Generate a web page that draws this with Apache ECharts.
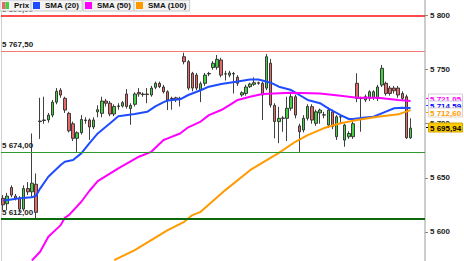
<!DOCTYPE html>
<html><head><meta charset="utf-8">
<script src="https://cdn.jsdelivr.net/npm/echarts@6/dist/echarts.min.js"></script>
<style>html,body{margin:0;padding:0;background:#fff}#c{width:464px;height:261px}</style>
</head><body><div id="c"></div>
<script>
// ---- DATA ----
const seriesNames = ['Prix', 'SMA (20)', 'SMA (50)', 'SMA (100)'];
// [open, close, low, high]
const candles = [
 [5631,5625,5620,5634],[5626,5633,5620,5636],[5641,5634,5632,5643],[5633,5631,5629,5635],[5631,5621,5618,5633],
 [5621,5640,5619,5643],[5640,5637,5634,5646],[5637,5645,5632,5691],[5644,5618,5612,5654],[5702,5702.5,5686,5724],
 [5703,5703.5,5700,5725],[5703.5,5708,5701,5710],[5708,5720,5706,5722],[5720,5730,5718,5733],[5731,5726.5,5724,5733],
 [5723.5,5712.7,5710,5725],[5709.6,5693.5,5692,5711],[5700,5686.5,5684,5702],[5686.5,5691.7,5674,5693],[5691.7,5704,5690,5708],
 [5703,5703.5,5700,5706],[5703.5,5697,5685,5705],[5697,5703.5,5695,5706],[5711,5713,5706,5717],[5709.6,5721,5706,5725],
 [5721,5719,5716,5723],[5719,5709,5707,5721],[5709,5716,5707,5718],[5716,5716.5,5713,5719],[5716.4,5719.5,5715,5721],
 [5727.5,5716,5714,5732],[5714,5717,5699,5719],[5718,5727.5,5716,5729],[5729,5727.5,5725,5733],[5727,5727.5,5725,5729],
 [5727.5,5727,5719,5733],[5726.6,5733,5725,5735],[5733.7,5737.4,5732,5739],[5737.4,5734.3,5733,5739],[5734,5729.6,5728,5736],
 [5729.6,5722,5712.7,5731],[5723.5,5723,5713,5725],[5724,5722.5,5720,5725],[5723.5,5723,5716,5725],[5762,5757.4,5755,5765.7],
 [5757.4,5733,5731,5759],[5746.7,5733,5730,5748],[5745,5733,5731,5747],[5731,5737,5720,5739],[5737.4,5745,5735,5747],
 [5746,5746.5,5744,5748],[5752,5756,5750,5758],[5752.2,5759.6,5750,5763.6],[5759,5745,5743,5761],[5746,5746.2,5740,5749],
 [5745,5747,5743,5749],[5746,5746.5,5728,5748],[5743,5737.4,5735,5745],[5726.6,5728.7,5725,5730],[5728,5734,5726,5736],
 [5734.3,5736.8,5733,5738],[5736.5,5738,5735,5743],[5738,5737.5,5736,5739],[5737.4,5726.6,5703.4,5739],[5733,5762,5731,5764.5],
 [5756,5717.3,5715,5760],[5717,5702,5686.5,5719],[5702,5705,5682,5715.7],[5705,5705.3,5692.6,5707],[5705,5714.3,5684,5725],
 [5714.3,5725,5712,5729.6],[5725,5708,5705,5727],[5698,5692.6,5674,5700],[5694.2,5705,5692,5708],[5705,5716,5703,5718],
 [5715.8,5703.4,5700,5718],[5700.4,5711,5698,5713],[5710,5712.7,5700,5714],[5708,5708.3,5705,5711],[5698.8,5712.6,5696,5715],
 [5711,5697.3,5695,5713],[5688,5706.5,5685,5708],[5706.5,5706.2,5700,5708],[5684.9,5698.8,5678.7,5700],[5688,5691,5686,5693],
 [5688,5700,5686,5702],[5737.4,5723.5,5720,5746.7],[5723.5,5723.3,5692.6,5725],[5722,5725,5720,5727],[5723.5,5729.6,5721,5731],
 [5724,5729.6,5722,5731],[5723.5,5734,5721,5736],[5735.8,5751.3,5734,5754.4],[5737.4,5728,5726,5739],[5733,5728,5726,5735],
 [5733,5730.5,5728,5735],[5733,5726.6,5724,5735],[5728,5723.5,5721,5730],[5725,5687,5686,5727],[5687,5695.94,5686,5705]
];
// [candle index, value]
const sma20 = [[0,5629],[2,5630],[4,5631],[7,5632],[8,5633.3],[9,5640],[11,5651],[14,5661.8],[15,5664.8],[17,5666.4],
 [19,5672.6],[21,5682],[23,5691],[26,5700.4],[28,5707],[32,5709],[35,5711],[37,5716],[39,5720],[40,5721.5],[43,5722.6],
 [45,5726.6],[48,5731],[50,5734.3],[53,5736.8],[55,5738],[57,5739],[60,5741],[62,5741],[63,5740],[65,5738],[67,5734.3],
 [70,5731.2],[72,5726.6],[74,5722],[77,5719],[79,5714.3],[82,5708],[84,5704.4],[85,5704.4],[88,5705.7],[90,5706.5],
 [93,5711.2],[95,5714.3],[97,5714.9],[99,5714.59]];
const sma50 = [[7,5573.5],[9,5581.5],[11,5595.4],[14,5606.2],[15,5613],[16,5615.5],[19,5627.8],[21,5638],[23,5647],
 [28,5658.7],[33,5669.5],[36,5674],[39,5685],[40,5686.5],[43,5691],[45,5696.7],[48,5702],[50,5708],[53,5712.7],
 [55,5717.3],[57,5722],[60,5725],[63,5727.5],[70,5728.7],[77,5728],[82,5726],[86,5724],[91,5724],[96,5722],[99,5721.05]];
const sma100 = [[27,5573.8],[32,5583],[36,5592.3],[40,5601.6],[44,5609.3],[46,5615.5],[48,5618.5],[54,5638.6],[60,5657],
 [67,5673],[71,5683.3],[74,5689.5],[78,5696],[82,5700.4],[86,5703.4],[91,5706.5],[96,5708.7],[99,5712.6]];
const levels = [5800, 5767.5, 5674, 5612];
const yTicks = [5600, 5650, 5700, 5750, 5800];
const lastValues = [5721.05, 5714.59, 5712.60, 5695.94]; // SMA50, SMA20, SMA100, Prix
const yMin = 5573, yMax = 5814.5;
const emptySlots = 3;
const categories = Array.from({length: candles.length + emptySlots}, (_, i) => 'J' + (i + 1));

// ---- STYLE ----
const FONT = '"Liberation Sans", Arial, sans-serif';
const C_UP = '#45cf45', C_DOWN = '#e46a6a', C_EDGE = '#2b2b2b';
const C20 = '#1e4cff', C50 = '#ff00ff', C100 = '#ff9a00';
const levelStyles = [
  {color: '#ff1010', width: 1.5}, {color: '#f27a7a', width: 1},
  {color: '#2f9a2f', width: 1}, {color: '#0b6a0b', width: 2}
];
function fr(v, d) {
  const s = Number(v).toFixed(d);
  const parts = s.split('.');
  const i = parts[0].replace(/\B(?=(\d{3})+(?!\d))/g, ' ');
  return parts[1] ? i + ',' + parts[1] : i;
}
const prixIcon = 'image://data:image/svg+xml;charset=utf-8,' + encodeURIComponent(
  "<svg xmlns='http://www.w3.org/2000/svg' width='8' height='8'><rect width='4' height='8' fill='" + C_DOWN +
  "'/><rect x='4' width='4' height='8' fill='" + C_UP + "'/></svg>");
const legendLefts = [0, 31, 83, 134];

const chart = echarts.init(document.getElementById('c'), null, {renderer: 'svg', width: 464, height: 261});
const option = {
  animation: false,
  backgroundColor: '#ffffff',
  textStyle: {fontFamily: FONT},
  legend: seriesNames.map((n, k) => ({
    data: [k === 0 ? {name: n, icon: prixIcon} : {name: n, icon: 'rect'}],
    left: legendLefts[k], top: 0,
    padding: [1, 3, 1, 2], itemWidth: 7, itemHeight: 7, itemGap: 0,
    backgroundColor: '#f3f3f3', borderColor: '#c9c9c9', borderWidth: 1,
    textStyle: {fontFamily: FONT, fontWeight: 'bold', fontSize: 8, color: '#111', lineHeight: 9},
    selectedMode: false, z: 10
  })),
  grid: {left: 1, right: 39, top: 0, bottom: 0},
  xAxis: {type: 'category', data: categories, boundaryGap: true, show: false},
  yAxis: [
    {type: 'value', position: 'right', min: yMin, max: yMax,
     axisLine: {show: true, lineStyle: {color: '#cdcdcd', width: 2}},
     axisTick: {show: true, length: 3, customValues: yTicks, lineStyle: {color: '#888'}},
     axisLabel: {customValues: yTicks, formatter: v => fr(v, 0), fontFamily: FONT, fontWeight: 'bold',
                 fontSize: 8, color: '#222', margin: 5},
     splitLine: {show: false}},
    {type: 'value', position: 'left', min: yMin, max: yMax,
     axisLine: {show: true, lineStyle: {color: '#d0d0d0', width: 1}},
     axisTick: {show: false}, axisLabel: {show: false}, splitLine: {show: false}}
  ],
  series: [
    {name: seriesNames[0], type: 'candlestick', data: candles, barWidth: 3, z: 2,
     itemStyle: {color: C_UP, color0: C_DOWN, borderColor: C_EDGE, borderColor0: C_EDGE, borderWidth: 0.9},
     markLine: {
       silent: true, symbol: ['none', 'none'], animation: false,
       data: levels.map((v, k) => ({yAxis: v, lineStyle: {type: 'solid', color: levelStyles[k].color, width: levelStyles[k].width}})),
       label: {show: true, position: 'insideStartTop', distance: [1, 2], formatter: p => fr(p.value, 2),
               fontFamily: FONT, fontWeight: 'bold', fontSize: 8, color: '#222'}
     }},
    {name: seriesNames[1], type: 'line', data: sma20, symbol: 'none', z: 4,
     lineStyle: {color: C20, width: 2}, itemStyle: {color: C20}},
    {name: seriesNames[2], type: 'line', data: sma50, symbol: 'none', z: 4,
     lineStyle: {color: C50, width: 2}, itemStyle: {color: C50}},
    {name: seriesNames[3], type: 'line', data: sma100, symbol: 'none', z: 4,
     lineStyle: {color: C100, width: 2}, itemStyle: {color: C100}}
  ]
};
chart.setOption(option);

// price tags at right of the axis
const tagStyles = [
  {text: C50, fill: '#ffffff', stroke: '#d9c9d9', tick: C50, dy: -3},
  {text: '#0000ff', fill: '#ffffff', stroke: '#c9c9e0', tick: C20, dy: -3},
  {text: C100, fill: '#ffffff', stroke: '#e0d6c6', tick: C100, dy: 2},
  {text: '#000000', fill: '#ffcc00', stroke: '#d4a800', tick: '#000000', dy: -1.5}
];
const gx = 464 - 39;
const graphics = [];
lastValues.forEach((v, k) => {
  const st = tagStyles[k];
  const y = Math.round(chart.convertToPixel({yAxisIndex: 0}, v) + st.dy) + 0.5;
  graphics.push({type: 'line', z: 20 + k * 3, shape: {x1: gx + 1, y1: y, x2: gx + 4, y2: y},
                 style: {stroke: st.tick, lineWidth: 1}, silent: true});
  graphics.push({type: 'rect', z: 21 + k * 3, shape: {x: gx + 3.5, y: y - 4.5, width: 34, height: 9},
                 style: {fill: st.fill, stroke: st.stroke, lineWidth: 1}, silent: true});
  graphics.push({type: 'text', z: 22 + k * 3, x: gx + 5, y: y + 0.5,
                 style: {text: fr(v, 2), fill: st.text, font: 'bold 8px ' + FONT, verticalAlign: 'middle', textVerticalAlign: 'middle'},
                 silent: true});
});
chart.setOption({graphic: graphics});
</script>
</body></html>
